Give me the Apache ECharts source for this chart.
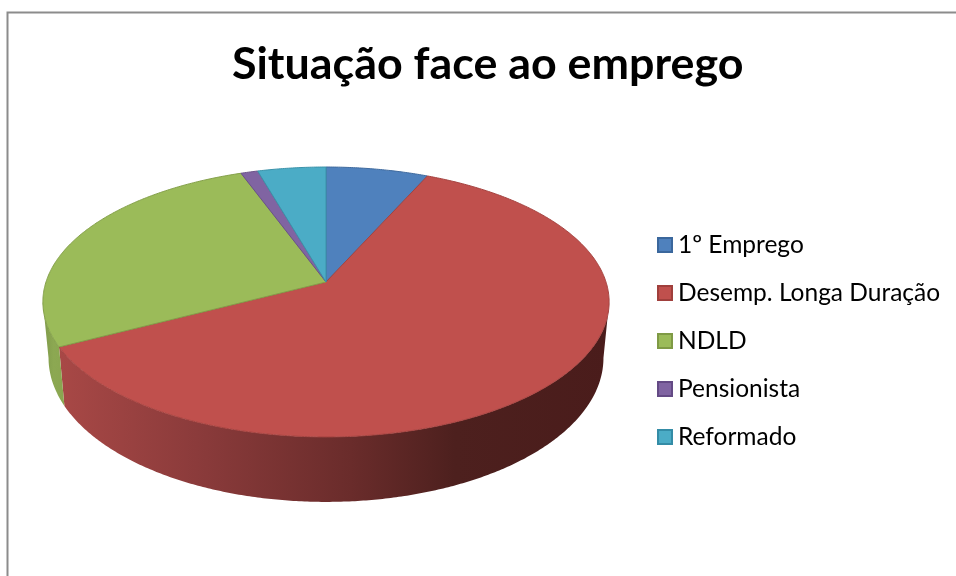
<!DOCTYPE html>
<html><head><meta charset="utf-8">
<style>html,body{margin:0;padding:0;background:#fff}#c{width:956px;height:576px}</style>
<script src="https://cdn.jsdelivr.net/npm/echarts@6/dist/echarts.min.js"></script>
</head><body><div id="c"></div>
<script>
const titleText = 'Situação face ao emprego';
const categories = ['1º Emprego','Desemp. Longa Duração','NDLD','Pensionista','Reformado'];
const counts = [6,54,24,1,4];
const topColors = ['#4f81bd','#c0504d','#9bbb59','#8064a2','#4bacc6'];
const edgeColors = ['#3f6a9e','#a54340','#84a04a','#6a5288','#3b93aa'];
const legendBorders = ['#3a679c','#a03f3c','#7f9a45','#644a85','#348ca6'];

const total = counts.reduce((a,b)=>a+b,0);
const RAD = Math.PI/180;
// projection of the tilted disc
const P = {cx:326, cy:282, a:280, b:132, k:-0.148, depth:54.6, sx:0.98, sy:1.067, frontY:0.148};
function rim(deg, lower){
  const X = Math.sin(deg*RAD), Y = -Math.cos(deg*RAD), d = 1 + P.k*Y;
  const dx = P.a*X/d, dy = P.b*Y/d;
  return lower ? [P.cx+P.sx*dx, P.cy+P.depth+P.sy*dy] : [P.cx+dx, P.cy+dy];
}
function arc(a0,a1,lower){
  const pts=[]; const n=Math.max(1,Math.ceil(Math.abs(a1-a0)/0.5));
  for(let i=0;i<=n;i++) pts.push(rim(a0+(a1-a0)*i/n,lower));
  return pts;
}
const frontStart = 180-Math.acos(P.frontY)/RAD;
const frontEnd = 360-frontStart;
const wallFills = {
  1:[[0,'#a84846'],[0.25,'#8b3b3b'],[0.53,'#6a2c2b'],[0.72,'#4d201e'],[1,'#4a1c1b']],
  2:[[0,'#7f9a4a'],[0.5,'#8ca852'],[1,'#8aa650']]
};
function renderSlice(idx){
  let before=0; for(let i=0;i<idx;i++) before+=counts[i];
  return function(params, api){
    const a0 = before/total*360, a1 = a0 + api.value(0)/total*360;
    const children=[];
    const w0=Math.max(a0,frontStart), w1=Math.min(a1,frontEnd);
    if(w1>w0){
      const pts=arc(w0,w1,false).concat(arc(w1,w0,true));
      const stops=(wallFills[idx]||[[0,topColors[idx]],[1,topColors[idx]]]).map(s=>({offset:s[0],color:s[1]}));
      children.push({type:'polygon',z2:1,shape:{points:pts},
        style:{fill:new echarts.graphic.LinearGradient(0,0,1,0,stops),stroke:null}});
    }
    children.push({type:'polygon',z2:5,shape:{points:[[P.cx,P.cy]].concat(arc(a0,a1,false))},
      style:{fill:topColors[idx],stroke:edgeColors[idx],lineWidth:1,lineJoin:'round'}});
    return {type:'group',children};
  };
}
const chart = echarts.init(document.getElementById('c'),null,{renderer:'canvas'});
chart.setOption({
  animation:false,
  backgroundColor:'#fff',
  title:{text:titleText,left:232,top:42,padding:0,
    textStyle:{fontFamily:'Lato',fontWeight:'bold',fontSize:44.8,color:'#000'}},
  legend:{orient:'vertical',left:657,top:231,padding:0,itemWidth:14,itemHeight:14,itemGap:20,
    icon:'rect',selectedMode:false,
    textStyle:{fontFamily:'Lato',fontSize:24.5,color:'#000',padding:[0,0,0,1],lineHeight:28},
    data:categories.map((n,i)=>({name:n,itemStyle:{borderColor:legendBorders[i],borderWidth:2}}))},
  graphic:[{type:'polyline',z:-1,shape:{points:[[7.5,590],[7.5,12.5],[970,12.5]]},
    style:{stroke:'#8c8c8c',lineWidth:2,fill:null}}],
  series:categories.map((n,i)=>({
    name:n,type:'custom',coordinateSystem:'none',silent:true,clip:false,
    itemStyle:{color:topColors[i]},
    renderItem:renderSlice(i),
    data:[[counts[i]]]
  }))
});
</script></body></html>
